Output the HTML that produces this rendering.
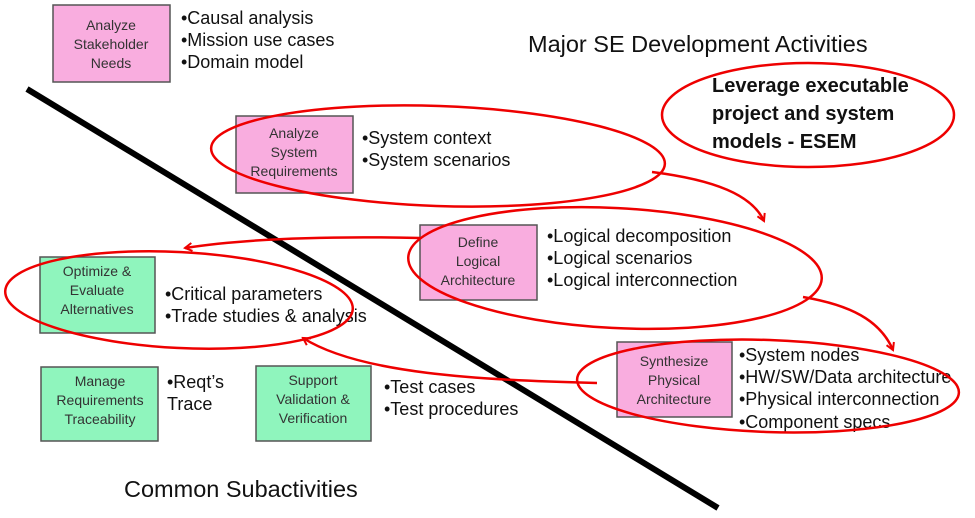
<!DOCTYPE html>
<html><head><meta charset="utf-8"><style>
html,body{margin:0;padding:0;background:#fff;}
svg{display:block;}
.bx{font-family:"Liberation Sans",sans-serif;font-size:14px;fill:#333;text-anchor:middle;}
.bl{font-family:"Liberation Sans",sans-serif;font-size:18px;fill:#111;}
</style></head><body>
<svg width="975" height="518" viewBox="0 0 975 518" xmlns="http://www.w3.org/2000/svg">
<defs><marker id="ah" markerWidth="10" markerHeight="10" refX="8" refY="5" orient="auto" markerUnits="userSpaceOnUse"><path d="M1,1 L8,5 L1,9" fill="none" stroke="#e00" stroke-width="2"/></marker></defs>
<line x1="27" y1="89" x2="718" y2="508" stroke="#000" stroke-width="6"/>
<rect x="53" y="5" width="117" height="77" fill="#f9addf" stroke="#555" stroke-width="1.5"/>
<text class="bx" x="111" y="30">Analyze</text><text class="bx" x="111" y="49">Stakeholder</text><text class="bx" x="111" y="68">Needs</text>
<rect x="236" y="116" width="117" height="77" fill="#f9addf" stroke="#555" stroke-width="1.5"/>
<text class="bx" x="294" y="138">Analyze</text><text class="bx" x="294" y="157">System</text><text class="bx" x="294" y="176">Requirements</text>
<rect x="420" y="225" width="117" height="75" fill="#f9addf" stroke="#555" stroke-width="1.5"/>
<text class="bx" x="478" y="247">Define</text><text class="bx" x="478" y="266">Logical</text><text class="bx" x="478" y="285">Architecture</text>
<rect x="617" y="342" width="115" height="75" fill="#f9addf" stroke="#555" stroke-width="1.5"/>
<text class="bx" x="674" y="366">Synthesize</text><text class="bx" x="674" y="385">Physical</text><text class="bx" x="674" y="404">Architecture</text>
<rect x="40" y="257" width="115" height="76" fill="#8ff5bd" stroke="#555" stroke-width="1.5"/>
<text class="bx" x="97" y="276">Optimize &amp;</text><text class="bx" x="97" y="295">Evaluate</text><text class="bx" x="97" y="314">Alternatives</text>
<rect x="41" y="367" width="117" height="74" fill="#8ff5bd" stroke="#555" stroke-width="1.5"/>
<text class="bx" x="100" y="386">Manage</text><text class="bx" x="100" y="405">Requirements</text><text class="bx" x="100" y="424">Traceability</text>
<rect x="256" y="366" width="115" height="75" fill="#8ff5bd" stroke="#555" stroke-width="1.5"/>
<text class="bx" x="313" y="385">Support</text><text class="bx" x="313" y="404">Validation &amp;</text><text class="bx" x="313" y="423">Verification</text>
<text class="bl" x="181" y="24">•Causal analysis</text>
<text class="bl" x="181" y="46">•Mission use cases</text>
<text class="bl" x="181" y="68">•Domain model</text>
<text class="bl" x="362" y="144">•System context</text>
<text class="bl" x="362" y="166">•System scenarios</text>
<text class="bl" x="547" y="242">•Logical decomposition</text>
<text class="bl" x="547" y="264">•Logical scenarios</text>
<text class="bl" x="547" y="286">•Logical interconnection</text>
<text class="bl" x="739" y="361">•System nodes</text>
<text class="bl" x="739" y="383">•HW/SW/Data architecture</text>
<text class="bl" x="739" y="405">•Physical interconnection</text>
<text class="bl" x="739" y="428">•Component specs</text>
<text class="bl" x="165" y="300">•Critical parameters</text>
<text class="bl" x="165" y="322">•Trade studies &amp; analysis</text>
<text class="bl" x="167" y="388">•Reqt’s</text>
<text class="bl" x="167" y="410">Trace</text>
<text class="bl" x="384" y="393">•Test cases</text>
<text class="bl" x="384" y="415">•Test procedures</text>
<text font-family="Liberation Sans,sans-serif" font-size="23.5" fill="#111" x="528" y="52">Major SE Development Activities</text>
<text font-family="Liberation Sans,sans-serif" font-size="23.5" fill="#111" x="124" y="497">Common Subactivities</text>
<text font-family="Liberation Sans,sans-serif" font-size="20" font-weight="bold" fill="#111" x="712" y="92">Leverage executable</text>
<text font-family="Liberation Sans,sans-serif" font-size="20" font-weight="bold" fill="#111" x="712" y="120">project and system</text>
<text font-family="Liberation Sans,sans-serif" font-size="20" font-weight="bold" fill="#111" x="712" y="148">models - ESEM</text>
<g fill="none" stroke="#e00" stroke-width="2.5">
<ellipse cx="438" cy="156" rx="227" ry="50" transform="rotate(2 438 156)"/>
<ellipse cx="615" cy="268" rx="207" ry="60" transform="rotate(3 615 268)"/>
<ellipse cx="768" cy="386" rx="191" ry="46" transform="rotate(2 768 386)"/>
<ellipse cx="179" cy="300" rx="174" ry="48" transform="rotate(3 179 300)"/>
<ellipse cx="808" cy="115" rx="146" ry="52"/>
<path d="M652,172 C715,180 752,195 764,221" marker-end="url(#ah)"/>
<path d="M803,297 C850,305 880,320 893,350" marker-end="url(#ah)"/>
<path d="M420,238 C330,236 250,238 185,248" marker-end="url(#ah)"/>
<path d="M597,383 C480,380 360,374 303,338" marker-end="url(#ah)"/>
</g>
</svg>
</body></html>
